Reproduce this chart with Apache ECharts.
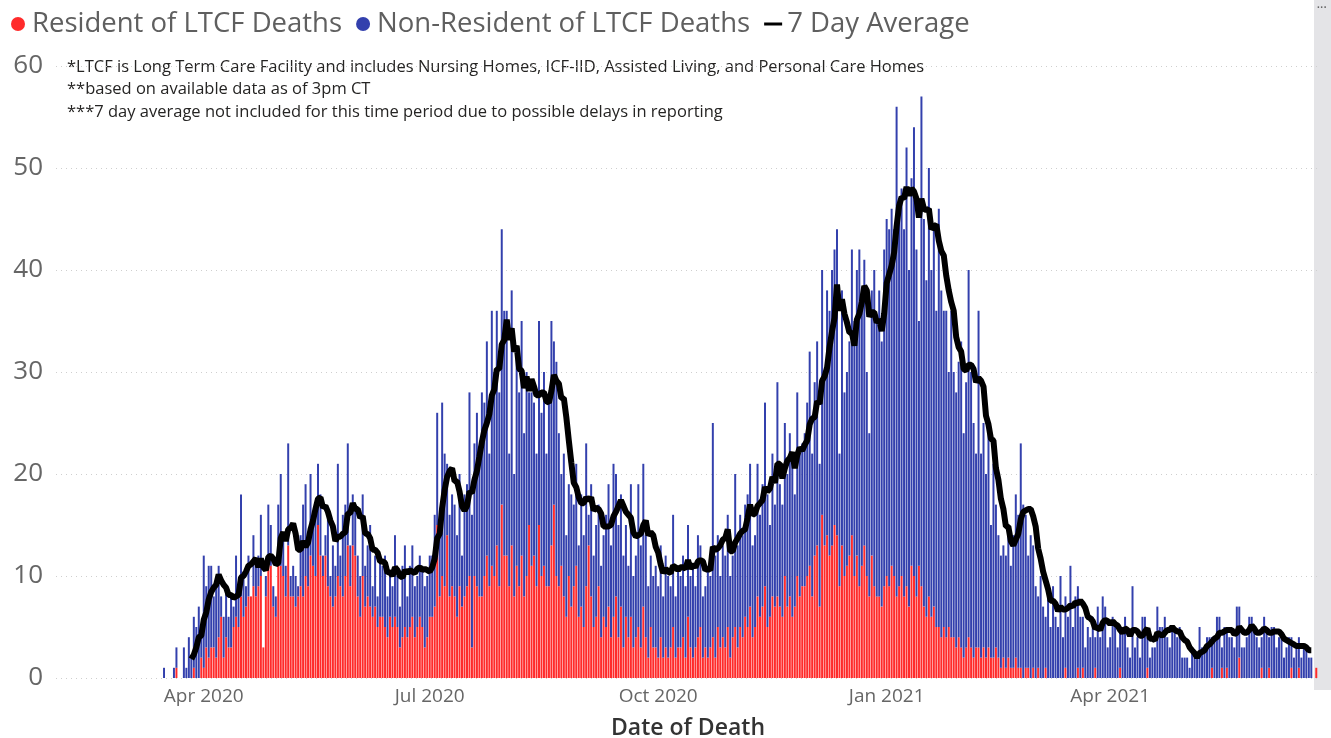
<!DOCTYPE html>
<html>
<head>
<meta charset="utf-8">
<title>LTCF Deaths by Date of Death</title>
<script src="https://cdn.jsdelivr.net/npm/echarts@6/dist/echarts.min.js"></script>
<style>
  html, body { margin: 0; padding: 0; background: #fff; }
  #chart { width: 1331px; height: 738px; }
</style>
</head>
<body>
<div id="chart"></div>
<script>
// daily deaths, first value is 2020-03-14
const firstDay = '2020-03-14'
const axisStart = '2020-02-02'
const axisEnd = '2021-06-24'

const totalDeaths = [
  0,0,1,0,0,0,1,3,0,0,
  3,1,4,2,6,5,7,4,12,9,
  11,11,8,9,11,8,6,9,6,8,
  7,12,9,18,10,9,12,8,14,11,
  12,16,3,10,17,15,9,8,17,20,
  14,11,23,10,11,10,9,14,17,19,
  13,20,16,17,21,18,12,14,16,10,
  13,11,21,12,16,17,23,13,18,17,
  12,10,18,11,13,15,9,12,8,12,
  11,12,8,10,9,14,10,7,11,13,
  8,11,13,9,10,12,11,9,10,12,
  12,16,26,14,27,22,21,16,18,17,
  14,20,12,18,19,28,16,23,26,22,
  28,27,33,22,36,30,36,28,44,36,
  36,22,38,20,32,28,35,24,30,28,
  28,27,22,35,26,30,22,27,35,33,
  31,24,20,22,14,19,18,17,21,13,
  18,14,23,16,19,12,15,17,11,14,
  16,19,13,21,20,15,18,12,15,11,
  19,10,12,19,13,21,14,9,12,10,
  11,9,13,8,12,10,9,16,8,11,
  10,12,9,15,10,11,9,14,13,8,
  9,11,10,25,12,14,10,13,12,16,
  10,12,20,13,16,14,17,18,21,13,
  14,21,16,19,27,18,15,22,17,29,
  19,17,25,20,24,21,18,28,22,23,
  24,27,32,22,29,33,21,40,30,38,
  36,40,42,44,22,38,28,30,33,42,
  35,40,42,36,41,30,24,38,40,35,
  38,33,42,45,44,46,44,56,47,48,
  44,52,40,49,54,42,35,57,45,39,
  50,40,44,36,46,38,36,36,30,36,
  30,28,31,33,24,29,40,30,25,22,
  36,22,25,20,24,15,21,17,14,12,
  13,12,15,11,14,18,16,23,17,16,
  12,14,13,9,8,10,7,6,8,5,
  9,6,5,10,4,8,6,11,5,8,
  9,6,6,3,5,4,6,4,7,4,
  8,7,3,4,6,5,3,5,5,6,
  3,2,9,3,4,2,6,6,4,2,
  3,3,7,5,5,6,4,3,5,5,
  4,5,2,2,2,1,3,2,2,5,
  3,3,4,4,4,4,6,6,3,5,
  5,4,4,3,7,7,3,3,4,6,
  6,5,4,3,4,6,5,4,5,5,
  3,4,4,2,3,4,4,2,3,4,
  2,3,3,2,2,0,1,0
]

const residentDeaths = [
  0,0,0,0,0,0,0,1,0,0,
  0,0,0,0,1,0,0,2,1,3,
  2,3,3,2,4,6,2,4,3,3,
  5,6,5,8,6,7,8,8,9,8,
  9,10,3,8,12,11,7,6,11,11,
  10,8,13,8,8,7,8,9,8,10,
  9,12,11,10,15,12,10,12,9,8,
  7,8,10,9,8,10,13,9,13,12,
  8,6,10,7,8,7,6,7,5,6,
  6,5,4,6,5,6,5,3,4,5,
  4,5,6,4,5,6,5,3,4,6,
  6,7,15,8,10,9,14,8,9,8,
  6,9,7,8,9,10,3,10,9,8,
  8,10,12,9,11,10,13,9,17,12,
  12,9,13,8,11,9,12,8,10,15,
  11,12,9,15,10,11,9,9,13,17,
  10,9,11,8,6,10,7,9,11,6,
  7,5,9,13,8,5,6,9,4,6,
  5,7,4,6,8,4,7,3,6,4,
  6,3,4,5,3,7,4,2,5,3,
  3,2,4,2,3,2,3,5,2,3,
  3,4,2,6,3,2,3,4,5,2,
  3,2,3,4,2,5,3,4,3,5,
  2,4,5,3,5,4,6,5,7,4,
  5,8,6,7,9,5,6,8,7,8,
  7,6,10,7,8,6,7,10,8,9,
  9,10,11,8,12,13,7,16,13,14,
  12,13,15,14,9,13,10,11,12,14,
  10,12,9,11,13,10,8,12,9,8,
  8,7,9,10,9,11,10,8,9,10,
  8,9,7,11,10,8,11,9,7,6,
  8,6,7,5,5,4,5,4,5,4,
  4,3,4,3,2,3,4,3,2,3,
  3,2,3,2,3,2,2,3,2,1,
  2,1,2,1,1,2,1,1,0,1,
  1,0,1,0,1,0,0,1,0,0,
  0,0,0,0,0,1,0,0,0,0,
  1,0,1,0,0,0,0,1,0,0,
  0,0,0,0,0,0,0,1,0,0,
  0,0,0,0,0,0,0,0,1,0,
  0,0,0,0,0,0,0,0,0,0,
  0,0,0,0,0,0,0,0,0,0,
  0,0,0,0,1,0,0,0,1,0,
  1,0,0,0,0,2,0,0,0,0,
  0,0,0,0,1,0,0,1,0,0,
  0,0,0,0,0,0,1,0,0,1,
  0,0,0,0,0,0,1,0
]

// 7 day average shown only between these positions of totalDeaths
const avgFrom = 13
const avgTo = 464

const tickDates = ['2020-04-01', '2020-07-01', '2020-10-01', '2021-01-01', '2021-04-01']
const tickLabels = ['Apr 2020', 'Jul 2020', 'Oct 2020', 'Jan 2021', 'Apr 2021']

const notes = [
  '*LTCF is Long Term Care Facility and includes Nursing Homes, ICF-IID, Assisted Living, and Personal Care Homes',
  '**based on available data as of 3pm CT',
  '***7 day average not included for this time period due to possible delays in reporting'
]

const FONT = '"Open Sans", "Noto Sans", sans-serif'
const DAY = 86400000

const dates = []
for (let t = Date.parse(axisStart); t <= Date.parse(axisEnd); t += DAY)
  dates.push(new Date(t).toISOString().slice(0, 10))
const offset = dates.indexOf(firstDay)

const resident = dates.map((d, i) =>
{
  const k = i - offset
  return k >= 0 && k < residentDeaths.length ? residentDeaths[k] : null
})
const nonResident = dates.map((d, i) =>
{
  const k = i - offset
  return k >= 0 && k < totalDeaths.length ? totalDeaths[k] - residentDeaths[k] : null
})
const sevenDay = dates.map((d, i) =>
{
  const k = i - offset
  if (k < avgFrom || k > avgTo) return null
  let s = 0
  for (let j = k - 6; j <= k; j++) s += totalDeaths[j]
  return +(s / 7).toFixed(2)
})

const chart = echarts.init(document.getElementById('chart'))
chart.setOption({
  animation: false,
  textStyle: { fontFamily: FONT },
  legend: {
    left: 6,
    top: 5,
    itemWidth: 18,
    itemHeight: 14,
    itemGap: 14,
    textStyle: { fontSize: 27.5, color: '#5f5f5f', fontFamily: FONT },
    data: [
      { name: 'Resident of LTCF Deaths', icon: 'circle' },
      { name: 'Non-Resident of LTCF Deaths', icon: 'circle' },
      { name: '7 Day Average', icon: 'path://M0,0H18V3H0Z' }
    ]
  },
  grid: { left: 56, right: 11, top: 66, bottom: 60, outerBoundsMode: 'none' },
  xAxis: {
    type: 'category',
    data: dates,
    boundaryGap: true,
    axisLine: { show: false },
    axisTick: { show: false },
    axisLabel: {
      interval: (idx, val) => tickDates.indexOf(val) >= 0,
      formatter: val => tickLabels[tickDates.indexOf(val)] || '',
      fontSize: 19,
      color: '#666',
      margin: 9
    },
    name: 'Date of Death',
    nameLocation: 'middle',
    nameGap: 39,
    nameTextStyle: { fontSize: 23, color: '#333', fontWeight: 600 }
  },
  yAxis: {
    type: 'value',
    min: 0,
    max: 60,
    interval: 10,
    axisLine: { show: false },
    axisTick: { show: false },
    axisLabel: { fontSize: 26, color: '#666', margin: 13 },
    splitLine: { lineStyle: { color: '#cfcfcf', type: [1, 4] } }
  },
  series: [
    {
      name: 'Resident of LTCF Deaths',
      type: 'bar',
      stack: 'deaths',
      data: resident,
      barCategoryGap: '20%',
      itemStyle: { color: '#ff2b2b' }
    },
    {
      name: 'Non-Resident of LTCF Deaths',
      type: 'bar',
      stack: 'deaths',
      data: nonResident,
      barCategoryGap: '20%',
      itemStyle: { color: '#3340ad' }
    },
    {
      name: '7 Day Average',
      type: 'line',
      data: sevenDay,
      symbol: 'none',
      connectNulls: false,
      color: '#000',
      lineStyle: { color: '#000', width: 6 },
      z: 5
    }
  ],
  graphic: [
    // scroll bar strip on the right edge
    { type: 'rect', z: -1, shape: { x: 1314, y: 0, width: 17, height: 690 }, style: { fill: '#e4e4e7' } },
    { type: 'text', x: 1317, y: 3, style: { text: '···', fill: '#666', font: 'bold 10px sans-serif' } },
    ...notes.map((t, i) => ({
      type: 'text',
      x: 67,
      y: 67 + i * 22.5,
      style: { text: t, fill: '#252423', font: '16.5px ' + FONT, verticalAlign: 'middle' }
    }))
  ]
})
</script>
</body>
</html>
